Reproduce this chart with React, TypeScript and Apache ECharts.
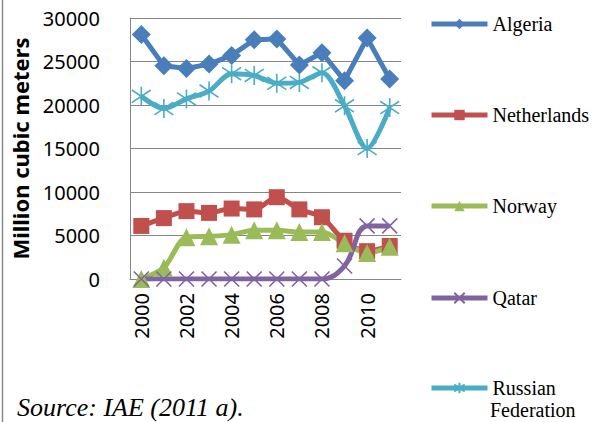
import React, { useEffect, useRef } from "react";
import * as echarts from "echarts";

const years = ["2000","2001","2002","2003","2004","2005","2006","2007","2008","2009","2010","2011"];
const algeria = [28100, 24500, 24200, 24700, 25700, 27500, 27600, 24600, 26000, 22800, 27700, 23000];
const netherlands = [6100, 7000, 7800, 7600, 8100, 8000, 9400, 8000, 7100, 4400, 3200, 3800];
const norway = [0, 1300, 4800, 4900, 5100, 5600, 5600, 5400, 5400, 4100, 3000, 3700];
const qatar = [0, 0, 0, 0, 0, 0, 0, 0, 0, 1500, 6100, 6100];
const russia = [21000, 19600, 20700, 21600, 23600, 23400, 22500, 22600, 23700, 19900, 15000, 19700];
const yTicks = { min: 0, max: 30000, interval: 5000 };

const CROSS = "path://M0,0L10,10M10,0L0,10";
const STAR = "path://M0,1L10,9M10,1L0,9M5,-1L5,11";

export default function App() {
  const ref = useRef<HTMLDivElement>(null);
  useEffect(() => {
    const chart = echarts.init(ref.current!, null, { renderer: "svg" });
    const mk = (name: string, data: number[], color: string, symbol: string, size: number, smooth: number | boolean, stroke = false) => ({
      name,
      type: "line",
      data,
      smooth,
      symbol,
      symbolSize: size,
      showSymbol: true,
      showAllSymbol: true,
      color,
      lineStyle: { color, width: 5 },
      itemStyle: stroke
        ? { color, borderColor: color, borderWidth: 1.6 }
        : { color, borderWidth: 0 },
      emphasis: { disabled: true },
    });
    const legendBase = {
      orient: "vertical",
      left: 429,
      padding: 0,
      itemWidth: 56,
      itemHeight: 13,
      lineStyle: { width: 5 },
      textStyle: { fontFamily: "Liberation Serif", fontSize: 20, color: "#000" },
      selectedMode: false,
    };
    chart.setOption({
      animation: false,
      grid: { left: 130, right: 193, top: 18, bottom: 143 },
      xAxis: {
        type: "category",
        data: years,
        boundaryGap: true,
        axisLine: { show: true, lineStyle: { color: "#868686", width: 1 } },
        axisTick: { show: false },
        axisLabel: {
          rotate: 90,
          interval: 1,
          margin: 14,
          color: "#000",
          fontFamily: "Noto Sans",
          fontSize: 20,
        },
      },
      yAxis: {
        type: "value",
        min: yTicks.min,
        max: yTicks.max,
        interval: yTicks.interval,
        name: "Million cubic meters",
        nameLocation: "middle",
        nameRotate: 90,
        nameGap: 99,
        nameTextStyle: { fontFamily: "Noto Sans", fontWeight: "bold", fontSize: 22, color: "#000", padding: [0, 0, 0, 0] },
        axisLine: { show: true, lineStyle: { color: "#868686", width: 1 } },
        axisTick: { show: false },
        splitLine: { lineStyle: { color: "#868686", width: 1 } },
        axisLabel: { margin: 30, color: "#000", fontFamily: "Noto Sans", fontSize: 20, formatter: (v: number) => String(v) },
      },
      legend: [
        { ...legendBase, top: 14, data: ["Algeria"] },
        { ...legendBase, top: 105, data: ["Netherlands"] },
        { ...legendBase, top: 196, data: ["Norway"] },
        { ...legendBase, top: 288, data: ["Qatar"] },
        { ...legendBase, top: 378, data: ["Russian Federation"], formatter: () => "Russian" },
      ],
      graphic: [
        { type: "line", shape: { x1: 2.5, y1: 0, x2: 2.5, y2: 422 }, style: { stroke: "#8a8a8a", lineWidth: 1.5 } },
        { type: "text", left: 490, top: 400, style: { text: "Federation", font: "20px 'Liberation Serif'", fill: "#000" } },
        { type: "text", left: 17, top: 394, style: { text: "Source: IAE (2011 a).", font: "italic 26px 'Liberation Serif'", fill: "#000" } },
      ],
      series: [
        mk("Algeria", algeria, "#4A7EBB", "diamond", 19, false),
        mk("Netherlands", netherlands, "#C0504D", "rect", 16, 0.3),
        mk("Norway", norway, "#9BBB59", "triangle", 18, 0.3),
        mk("Qatar", qatar, "#8064A2", CROSS, 15, 0.4, true),
        mk("Russian Federation", russia, "#4BACC6", STAR, 19, 0.3, true),
      ],
    });
    return () => chart.dispose();
  }, []);
  return <div ref={ref} style={{ position: "absolute", left: 0, top: 0, width: 594, height: 422 }} />;
}
